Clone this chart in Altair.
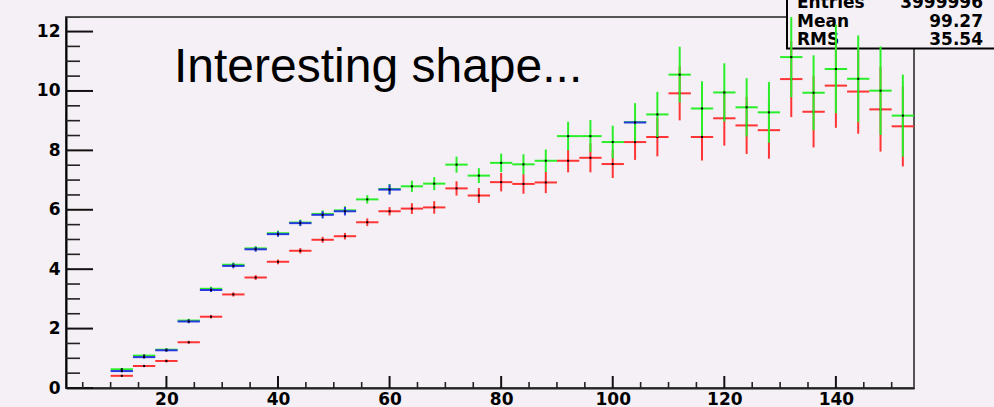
import altair as alt
import pandas as pd

# ---------------- data ----------------
bins = [12, 16, 20, 24, 28, 32, 36, 40, 44, 48, 52, 56, 60, 64, 68, 72, 76, 80,
        84, 88, 92, 96, 100, 104, 108, 112, 116, 120, 124, 128, 132, 136, 140,
        144, 148, 152]

red_vals = [0.41, 0.74, 0.91, 1.54, 2.40, 3.15, 3.72, 4.25, 4.62, 4.99, 5.11,
            5.58, 5.95, 6.04, 6.08, 6.72, 6.48, 6.93, 6.87, 6.92, 7.65, 7.75,
            7.54, 8.28, 8.45, 9.92, 8.45, 9.08, 8.84, 8.68, 10.40, 9.30, 10.18,
            9.98, 9.38, 8.81]
red_errs = [0.03, 0.04, 0.05, 0.05, 0.06, 0.07, 0.08, 0.08, 0.09, 0.10, 0.11,
            0.13, 0.14, 0.18, 0.21, 0.24, 0.25, 0.31, 0.33, 0.36, 0.39, 0.49,
            0.47, 0.60, 0.65, 0.91, 0.79, 0.92, 0.96, 0.96, 1.28, 1.20, 1.42,
            1.42, 1.42, 1.35]

green_vals = [0.63, 1.09, 1.29, 2.27, 3.34, 4.15, 4.70, 5.21, 5.57, 5.86, 5.98,
              6.35, 6.70, 6.79, 6.88, 7.52, 7.15, 7.58, 7.53, 7.65, 8.48, 8.48,
              8.28, 8.95, 9.21, 10.55, 9.41, 9.95, 9.45, 9.28, 11.14, 9.94,
              10.74, 10.41, 10.01, 9.17]
green_errs = [0.04, 0.05, 0.05, 0.06, 0.07, 0.08, 0.08, 0.09, 0.10, 0.12, 0.14,
              0.14, 0.17, 0.19, 0.22, 0.27, 0.25, 0.31, 0.34, 0.38, 0.48, 0.54,
              0.55, 0.64, 0.76, 0.94, 0.92, 0.98, 0.98, 1.02, 1.35, 1.26, 1.49,
              1.46, 1.49, 1.38]

blue_bins = [12, 16, 20, 24, 28, 32, 36, 40, 44, 48, 52, 60, 104]
blue_vals = [0.57, 1.04, 1.27, 2.24, 3.30, 4.11, 4.67, 5.18, 5.55, 5.83, 5.95,
             6.68, 8.94]
blue_errs = [0.04, 0.05, 0.05, 0.06, 0.07, 0.08, 0.08, 0.09, 0.10, 0.12, 0.14,
             0.17, 0.05]

bin_width = 4

y_major = [0, 2, 4, 6, 8, 10, 12]
y_minor = [0.5, 1, 1.5, 2.5, 3, 3.5, 4.5, 5, 5.5, 6.5, 7, 7.5, 8.5, 9, 9.5,
           10.5, 11, 11.5, 12.5]
x_major = [20, 40, 60, 80, 100, 120, 140]
x_minor = [5, 10, 15, 25, 30, 35, 45, 50, 55, 65, 70, 75, 85, 90, 95, 105,
           110, 115, 125, 130, 135, 145, 150]

stat_names = ["Entries", "Mean", "RMS"]
stat_values = ["3999996", "99.27", "35.54"]
title_text = "Interesting shape..."

# ---------------- layout / style ----------------
W, H = 848, 371
BG = "#f5f0f5"
TICKFONT = "DejaVu Sans"

xs = alt.Scale(domain=[2, 154], nice=False, zero=False)
ys = alt.Scale(domain=[0, 12.49], nice=False, zero=False)

YAX = alt.Axis(
    values=y_major, tickSize=0, ticks=False, labelPadding=6, labelFont=TICKFONT,
    labelFontSize=17, labelFontWeight="bold", labelColor="black",
    labelFlush=False, labelOverlap=False, domainColor="black",
    domainWidth=2, grid=False, title=None, format="d")
XAX = alt.Axis(
    values=x_major, tickSize=0, ticks=False, labelPadding=3, labelFont=TICKFONT,
    labelFontSize=17, labelFontWeight="bold", labelColor="black",
    labelFlush=False, labelOverlap=False, domainColor="#222",
    domainWidth=2, grid=False, title=None, format="d")


def series(bx, vals, errs, color):
    df = pd.DataFrame({"bin": bx, "val": vals, "err": errs})
    base = alt.Chart(df).transform_calculate(
        lo=f"datum.bin - {bin_width / 2}",
        hi=f"datum.bin + {bin_width / 2}",
        ylo="datum.val - datum.err",
        yhi="datum.val + datum.err",
    )
    vert = base.mark_rule(color=color, strokeWidth=2, clip=True).encode(
        x=alt.X("bin:Q", scale=xs, axis=XAX),
        y=alt.Y("ylo:Q", scale=ys, axis=YAX),
        y2="yhi:Q",
    )
    horiz = base.mark_rule(color=color, strokeWidth=2, clip=True).encode(
        x=alt.X("lo:Q", scale=xs, axis=XAX),
        x2="hi:Q",
        y=alt.Y("val:Q", scale=ys, axis=YAX),
    )
    dot = base.mark_square(color="black", size=4, opacity=1, clip=True).encode(
        x=alt.X("bin:Q", scale=xs, axis=XAX),
        y=alt.Y("val:Q", scale=ys, axis=YAX),
    )
    return [vert, horiz, dot]


# inward ticks as rules
ymajor_layer = alt.Chart(pd.DataFrame({"v": y_major})).mark_rule(
    color="#111", strokeWidth=2
).encode(
    y=alt.Y("v:Q", scale=ys, axis=YAX),
    x=alt.value(0), x2=alt.value(27),
)
yminor_layer = alt.Chart(pd.DataFrame({"v": y_minor})).mark_rule(
    color="#222", strokeWidth=1.6, clip=True
).encode(
    y=alt.Y("v:Q", scale=ys, axis=YAX),
    x=alt.value(0), x2=alt.value(14),
)
xmajor_layer = alt.Chart(pd.DataFrame({"v": x_major})).mark_rule(
    color="#111", strokeWidth=2
).encode(
    x=alt.X("v:Q", scale=xs, axis=XAX),
    y=alt.value(H), y2=alt.value(H - 12),
)
xminor_layer = alt.Chart(pd.DataFrame({"v": x_minor})).mark_rule(
    color="#222", strokeWidth=1.6
).encode(
    x=alt.X("v:Q", scale=xs, axis=XAX),
    y=alt.value(H), y2=alt.value(H - 6),
)

# stats box
box = alt.Chart(pd.DataFrame({"k": [0]})).mark_rect(
    fill=BG, stroke="black", strokeWidth=2
).encode(
    x=alt.value(721), x2=alt.value(960), y=alt.value(-30), y2=alt.value(31.5)
)
stats_df = pd.DataFrame({"name": stat_names, "value": stat_values})
stat_layers = []
for i, yb in enumerate([-9, 10, 28]):
    sub = stats_df.iloc[[i]]
    stat_layers.append(alt.Chart(sub).mark_text(
        align="left", baseline="alphabetic", font=TICKFONT, fontSize=17,
        fontWeight="bold", color="black"
    ).encode(text="name:N", x=alt.value(731), y=alt.value(yb)))
    stat_layers.append(alt.Chart(sub).mark_text(
        align="right", baseline="alphabetic", font=TICKFONT, fontSize=17,
        fontWeight="bold", color="black"
    ).encode(text="value:N", x=alt.value(917), y=alt.value(yb)))

title = alt.Chart(pd.DataFrame({"t": [title_text]})).mark_text(
    align="left", baseline="alphabetic", font="Liberation Sans", fontSize=48,
    color="black"
).encode(text="t:N", x=alt.value(108), y=alt.value(65))

layers = ([box] + stat_layers + [title, yminor_layer, ymajor_layer,
                                 xminor_layer, xmajor_layer]
          + series(bins, red_vals, red_errs, "#ff3535")
          + series(bins, green_vals, green_errs, "#2aee2a")
          + series(blue_bins, blue_vals, blue_errs, "#2a38e0"))

chart = alt.layer(*layers).properties(
    width=W, height=H,
    autosize=alt.AutoSizeParams(type="none"),
    padding={"left": 66, "top": 17, "right": 80, "bottom": 19},
    background=BG,
).configure_view(stroke="#555", strokeWidth=2)

chart.save("out.html", embed_options={"renderer": "svg", "actions": False})
